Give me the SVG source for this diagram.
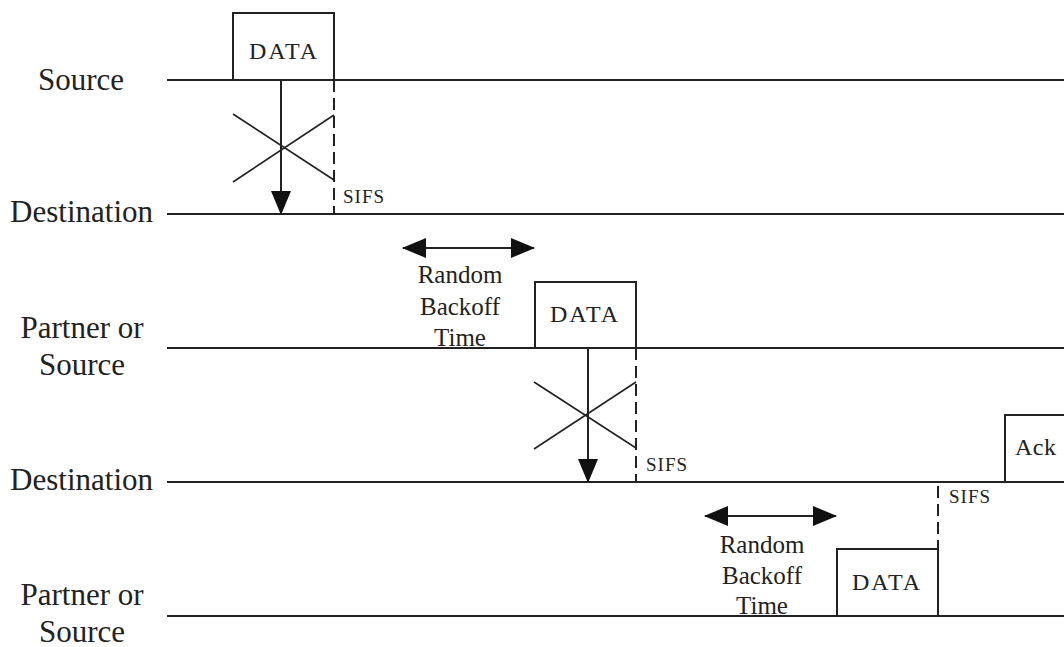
<svg xmlns="http://www.w3.org/2000/svg" width="1064" height="647" viewBox="0 0 1064 647">
<style>
.t{font-family:"Liberation Serif","Times New Roman",serif;fill:#222}
.lab{font-size:31px}
.box{font-size:24px;letter-spacing:2px}
.bk{font-size:25px}
.sifs{font-size:19px;letter-spacing:1px}
.ln{stroke:#222;stroke-width:2;fill:none}
.dash{stroke:#222;stroke-width:2;fill:none;stroke-dasharray:12 6}
.thin{stroke:#222;stroke-width:1.6;fill:none}
.fr{stroke:#222;stroke-width:2;fill:#fff}
</style>
<defs>
<marker id="ah" markerWidth="24" markerHeight="20" refX="23" refY="10" orient="auto" markerUnits="userSpaceOnUse">
<path d="M0,0 L24,10 L0,20 Z" fill="#111"/>
</marker>
<marker id="ahs" markerWidth="24" markerHeight="20" refX="1" refY="10" orient="auto" markerUnits="userSpaceOnUse">
<path d="M24,0 L0,10 L24,20 Z" fill="#111"/>
</marker>
</defs>
<rect width="1064" height="647" fill="#fff"/>

<g id="timelines">
<line class="ln" x1="167" y1="80" x2="1064" y2="80"/>
<line class="ln" x1="167" y1="214" x2="1064" y2="214"/>
<line class="ln" x1="167" y1="348" x2="1064" y2="348"/>
<line class="ln" x1="167" y1="482" x2="1064" y2="482"/>
<line class="ln" x1="167" y1="616" x2="1064" y2="616"/>
</g>

<g id="labels">
<text class="t lab" x="81" y="90" text-anchor="middle">Source</text>
<text class="t lab" x="153" y="222" text-anchor="end">Destination</text>
<text class="t lab" x="82" y="338" text-anchor="middle">Partner or</text>
<text class="t lab" x="82" y="375" text-anchor="middle">Source</text>
<text class="t lab" x="153" y="490" text-anchor="end">Destination</text>
<text class="t lab" x="82" y="605" text-anchor="middle">Partner or</text>
<text class="t lab" x="82" y="642" text-anchor="middle">Source</text>
</g>

<g id="data1">
<rect class="fr" x="233" y="13" width="101" height="67"/>
<text class="t box" x="284" y="59" text-anchor="middle">DATA</text>
</g>
<g id="data2">
<rect class="fr" x="535" y="282" width="101" height="66"/>
<text class="t box" x="585" y="322" text-anchor="middle">DATA</text>
</g>
<g id="data3">
<rect class="fr" x="837" y="549" width="101" height="67"/>
<text class="t box" x="887" y="590" text-anchor="middle">DATA</text>
</g>
<g id="ack">
<rect class="fr" x="1005" y="415" width="70" height="67"/>
<text class="t box" x="1015" y="455" style="letter-spacing:0.5px">Ack</text>
</g>

<g id="connectors">
<line class="ln" x1="281" y1="80" x2="281" y2="214" marker-end="url(#ah)"/>
<line class="dash" x1="334" y1="80" x2="334" y2="214"/>
<line class="thin" x1="233" y1="114" x2="334" y2="180"/>
<line class="thin" x1="233" y1="182" x2="334" y2="115"/>

<line class="ln" x1="588" y1="348" x2="588" y2="482" marker-end="url(#ah)"/>
<line class="dash" x1="636" y1="348" x2="636" y2="482"/>
<line class="thin" x1="534" y1="382" x2="636" y2="448"/>
<line class="thin" x1="534" y1="449" x2="636" y2="382"/>

<line class="dash" x1="938" y1="486" x2="938" y2="549"/>

<line class="ln" x1="403" y1="248" x2="534" y2="248" marker-start="url(#ahs)" marker-end="url(#ah)"/>
<line class="ln" x1="705" y1="516" x2="836" y2="516" marker-start="url(#ahs)" marker-end="url(#ah)"/>
</g>

<g id="annotations">
<text class="t sifs" x="343" y="203">SIFS</text>
<text class="t sifs" x="646" y="471">SIFS</text>
<text class="t sifs" x="949" y="503">SIFS</text>
<text class="t bk" x="460" y="283" text-anchor="middle">Random</text>
<text class="t bk" x="460" y="315" text-anchor="middle">Backoff</text>
<text class="t bk" x="460" y="346" text-anchor="middle">Time</text>
<text class="t bk" x="762" y="553" text-anchor="middle">Random</text>
<text class="t bk" x="762" y="584" text-anchor="middle">Backoff</text>
<text class="t bk" x="762" y="614" text-anchor="middle">Time</text>
</g>
</svg>
